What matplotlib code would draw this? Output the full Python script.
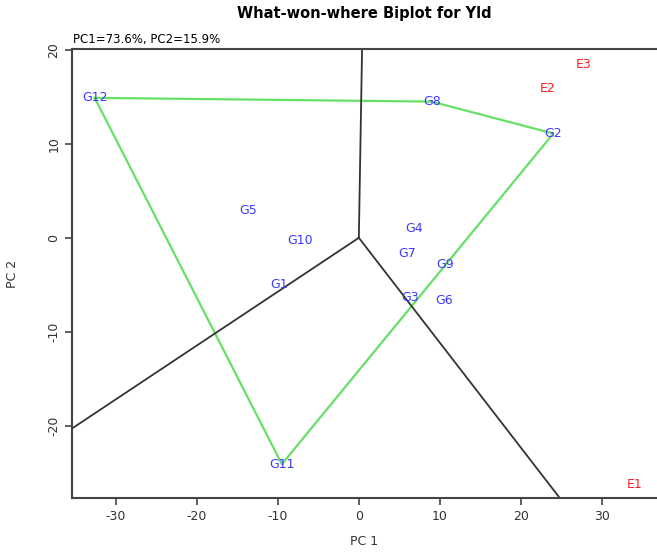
import numpy as np
import matplotlib
matplotlib.use("Agg")
import matplotlib.pyplot as plt

plt.rcParams['font.family'] = ['DejaVu Sans']
plt.rcParams['axes.unicode_minus'] = False

# genotype scores
gen_names = ['G1', 'G2', 'G3', 'G4', 'G5', 'G6', 'G7', 'G8', 'G9', 'G10', 'G11', 'G12']
gen_pc1 = [-9.8, 24.0, 6.3, 6.8, -13.7, 10.5, 5.9, 9.0, 10.7, -7.3, -9.5, -32.6]
gen_pc2 = [-5.0, 11.1, -6.4, 1.0, 2.9, -6.7, -1.7, 14.5, -2.8, -0.3, -24.1, 14.9]

# environment scores
env_names = ['E1', 'E2', 'E3']
env_pc1 = [34.0, 23.3, 27.8]
env_pc2 = [-26.3, 15.9, 18.4]

# polygon vertices (convex hull of genotypes)
hull = ['G12', 'G8', 'G2', 'G11', 'G12']

# end points of the sector rays, all drawn from the origin
ray_pc1 = [0.4, -35.4, 24.8]
ray_pc2 = [20.1, -20.3, -27.7]

fig = plt.figure(figsize=(6.57, 5.55), dpi=100)
ax = fig.add_axes([0.1096, 0.1027, 0.8904, 0.8090])

# hull
hx = [gen_pc1[gen_names.index(g)] for g in hull]
hy = [gen_pc2[gen_names.index(g)] for g in hull]
ax.plot(hx, hy, color='#66e066', lw=1.6, zorder=1)

# sector lines
for x, y in zip(ray_pc1, ray_pc2):
    ax.plot([0, x], [0, y], color='#333333', lw=1.3, zorder=2)

for n, x, y in zip(gen_names, gen_pc1, gen_pc2):
    ax.text(x, y, n, color='#3a3aff', fontsize=9, ha='center', va='center', zorder=3)
for n, x, y in zip(env_names, env_pc1, env_pc2):
    ax.text(x, y, n, color='#ff2020', fontsize=9, ha='center', va='center', zorder=3)

ax.set_xlim(-35.4, 36.8)
ax.set_ylim(-27.7, 20.1)
ax.set_xticks([-30, -20, -10, 0, 10, 20, 30])
ax.set_yticks([-20, -10, 0, 10, 20])
ax.tick_params(labelsize=9, length=5, width=1.2, colors='#444444', labelcolor='#333333')
for lab in ax.get_yticklabels():
    lab.set_rotation(90)
    lab.set_va('center')
for s in ['left', 'top', 'bottom']:
    ax.spines[s].set_color('#444444')
    ax.spines[s].set_linewidth(1.5)
ax.spines['right'].set_visible(False)

ax.set_xlabel('PC 1', fontsize=9, color='#333333', labelpad=9)
ax.set_ylabel('PC 2', fontsize=9, color='#333333', labelpad=20)

fig.text(0.555, 0.975, 'What-won-where Biplot for Yld', fontsize=10.5,
         fontweight='bold', ha='center', va='center')
fig.text(0.111, 0.928, 'PC1=73.6%, PC2=15.9%', fontsize=8.5, ha='left', va='center')

fig.savefig('out.png', dpi=100)
